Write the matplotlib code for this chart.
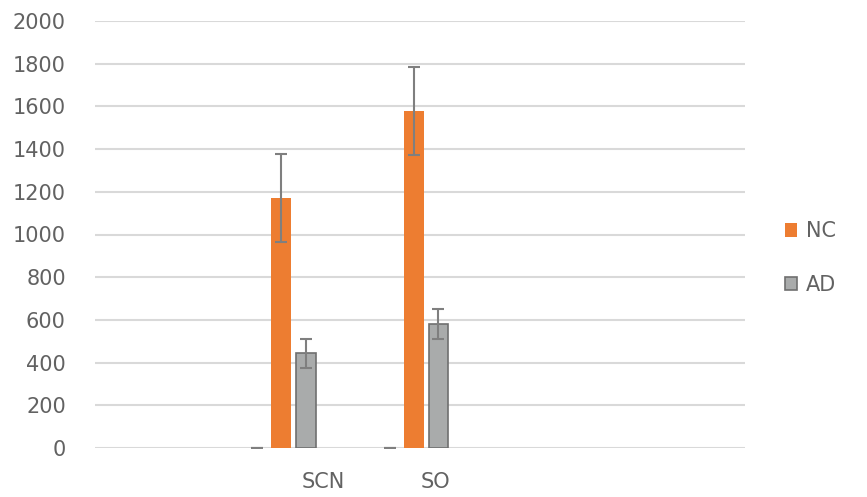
import matplotlib.pyplot as plt
import numpy as np

# data
categories = ["SCN", "SO"]
blank = [0, 0]
nc = [1170, 1578]
nc_err = [205, 205]
ad = [443, 582]
ad_err = [68, 70]
yticks = [0, 200, 400, 600, 800, 1000, 1200, 1400, 1600, 1800, 2000]

fig = plt.figure(figsize=(8.67, 4.97), dpi=100)
ax = fig.add_axes([95/867, 49/497, 650/867, 427/497])

x = np.arange(len(categories))
w = 0.184
bw = 0.15
err_style = dict(ecolor="#7f7f7f", elinewidth=1.5, capsize=4.5, capthick=1.5)

ax.bar(x - w, blank, bw, color="#4472c4", yerr=blank, label="_nolegend_", error_kw=err_style)
ax.bar(x, nc, bw, color="#ed7d31", yerr=nc_err, label="NC", zorder=3, error_kw=err_style)
ax.bar(x + w, ad, bw, color="#a9abab", edgecolor="#6f6f6f", linewidth=1.2,
       yerr=ad_err, label="AD", zorder=3, error_kw=err_style)

ax.set_ylim(0, 2000)
ax.set_xlim(-1.40, 3.49)
ax.set_yticks(yticks)
ax.set_xticks(x + np.array([0.32, 0.16]))
ax.set_xticklabels(categories)
ax.tick_params(length=0, labelsize=15, labelcolor="#626262")
ax.tick_params(axis="x", pad=17)
ax.tick_params(axis="y", pad=21)
ax.yaxis.grid(True, color="#d9d9d9", linewidth=1.5)
ax.set_axisbelow(True)
for s in ax.spines.values():
    s.set_visible(False)

leg = fig.legend(loc="center left", bbox_to_anchor=(766/867, 1 - 258/497), frameon=False,
                 fontsize=15, labelspacing=1.6, handlelength=0.6, handleheight=0.6,
                 handletextpad=0.4)
for t in leg.get_texts():
    t.set_color("#626262")

fig.savefig("out.png", dpi=100)
